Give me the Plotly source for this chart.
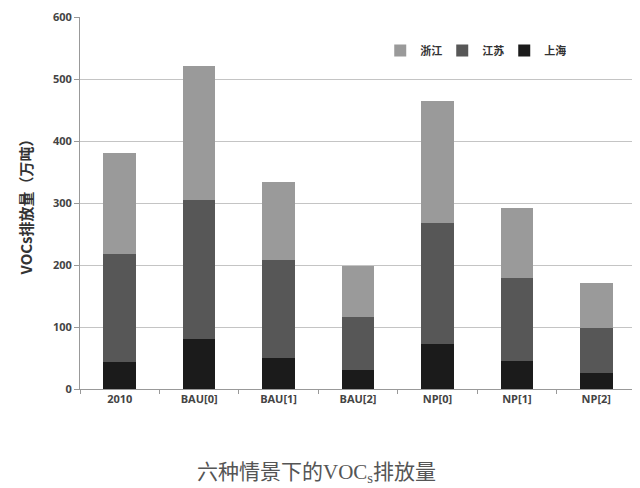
import plotly.graph_objects as go

scenarios = ["2010", "BAU[0]", "BAU[1]", "BAU[2]", "NP[0]", "NP[1]", "NP[2]"]
shanghai = [43, 80, 50, 30, 73, 45, 26]
jiangsu = [175, 225, 158, 86, 195, 134, 73]
zhejiang = [164, 217, 127, 82, 197, 114, 72]

y_ticks = [0, 100, 200, 300, 400, 500, 600]

bold = "Noto Sans CJK SC"
tick_font = dict(family="Open Sans", size=11, color="#444", weight="bold")

fig = go.Figure()
for name, vals, color in [
    ("上海", shanghai, "#1b1b1b"),
    ("江苏", jiangsu, "#575757"),
    ("浙江", zhejiang, "#9a9a9a"),
]:
    fig.add_bar(x=scenarios, y=vals, name=name, marker=dict(color=color, line=dict(width=0)))

# page body adds an 8px offset, so margins are trimmed to match the picture
fig.update_layout(
    barmode="stack",
    bargap=0.59,
    width=632,
    height=480,
    margin=dict(l=72, r=4, t=9, b=99, autoexpand=False),
    plot_bgcolor="white",
    paper_bgcolor="white",
    font=dict(family=bold, color="#444"),
    legend=dict(
        orientation="h",
        traceorder="reversed",
        x=0.54,
        y=0.91,
        xanchor="left",
        yanchor="middle",
        font=dict(size=11, color="#333", weight="bold"),
        entrywidth=17,
        entrywidthmode="pixels",
        itemsizing="constant",
        bgcolor="rgba(0,0,0,0)",
    ),
    showlegend=True,
)
fig.update_xaxes(
    tickson="boundaries",
    ticks="outside",
    ticklen=4,
    tickcolor="#999",
    showline=True,
    linecolor="#999",
    linewidth=1,
    tickfont=tick_font,
)
fig.update_yaxes(
    range=[0, 601],
    tickvals=y_ticks,
    ticks="outside",
    ticklen=5,
    tickcolor="#999",
    showline=True,
    linecolor="#999",
    gridcolor="#c4c4c4",
    gridwidth=1,
    zeroline=False,
    ticklabeloverflow="allow",
    tickfont=tick_font,
    title=dict(
        text="VOCs排放量（万吨）",
        font=dict(size=15, color="#333", weight="bold"),
        standoff=16,
    ),
)
fig.add_annotation(
    text="六种情景下的VOC<sub>s</sub>排放量",
    xref="paper",
    yref="paper",
    x=0.425,
    y=-0.225,
    yanchor="middle",
    showarrow=False,
    font=dict(family="Liberation Serif, Noto Sans CJK SC", size=21, color="#555"),
)

fig.write_html("out.html")
